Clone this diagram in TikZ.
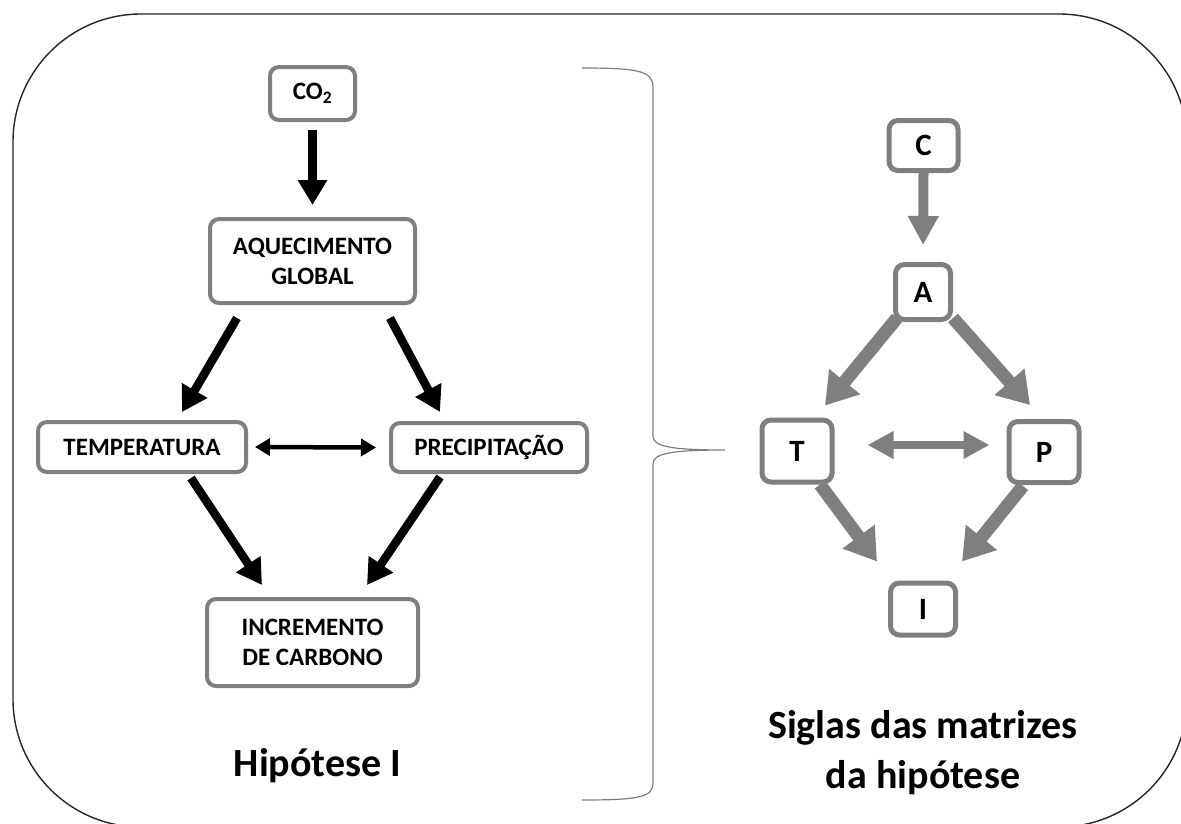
\documentclass[tikz,border=0pt]{standalone}
\usepackage{fontspec}
\setmainfont{Carlito}
\usetikzlibrary{arrows.meta}
\definecolor{boxgray}{HTML}{7F7F7F}
\definecolor{framecol}{HTML}{262626}
\begin{document}
\begin{tikzpicture}[x=1pt,y=-1pt,
  lbox/.style={draw=boxgray, line width=4pt, rounded corners=9pt, fill=white, inner sep=0pt, align=center, font=\bfseries\fontsize{25}{30}\selectfont},
  rbox/.style={draw=boxgray, line width=5pt, rounded corners=9pt, fill=white, inner sep=0pt, font=\bfseries\fontsize{31}{34}\selectfont},
  blkarrow/.style={black, line width=8.5pt, -{Triangle[width=28pt,length=25pt]}},
  blkdouble/.style={black, line width=4.5pt, {Triangle[width=17pt,length=15pt]}-{Triangle[width=17pt,length=15pt]}},
  grayarrow/.style={boxgray, line width=13pt, -{Triangle[width=38pt,length=31pt]}},
  graystraight/.style={boxgray, line width=10pt, -{Triangle[width=29pt,length=29pt]}},
  graydouble/.style={boxgray, line width=8pt, {Triangle[width=26pt,length=26pt]}-{Triangle[width=26pt,length=26pt]}},
  title/.style={font=\bfseries\fontsize{40}{50}\selectfont, align=center, anchor=base, inner sep=0pt}
]
\useasboundingbox (0,0) rectangle (1181,823);
\fill[white] (0,0) rectangle (1181,823);

% outer frame
\draw[framecol, line width=1.4pt, rounded corners=128pt] (13,14) rectangle (1187,827);

% brace
\draw[boxgray, line width=1.2pt] (582,68) .. controls (640,68) and (653,71) .. (653,88)
  -- (653,436) .. controls (653,446) and (668,450) .. (725,450)
  .. controls (668,450) and (653,454) .. (653,464)
  -- (653,783) .. controls (653,797) and (640,800) .. (582,800);

% left diagram
\node[lbox, minimum width=85pt, minimum height=53pt] (co2) at (312.5,93.5) {CO\textsubscript{2}};
\node[lbox, minimum width=205pt, minimum height=84pt] (ag) at (312.5,261) {AQUECIMENTO\\GLOBAL};
\node[lbox, minimum width=208pt, minimum height=50pt] (temp) at (142,447) {TEMPERATURA};
\node[lbox, minimum width=196pt, minimum height=49pt] (prec) at (489,447.5) {PRECIPITAÇÃO};
\node[lbox, minimum width=211pt, minimum height=87pt] (inc) at (312.5,642.5) {INCREMENTO\\DE CARBONO};

\draw[blkarrow, shorten <=8pt, shorten >=12pt] (co2.south) -- (ag.north);
\draw[blkarrow] ([shift={(-75.5,13)}]ag.south) -- ([shift={(40,-8)}]temp.north);
\draw[blkarrow] ([shift={(77.5,13)}]ag.south) -- ([shift={(-49,-9)}]prec.north);
\draw[blkdouble] ([shift={(7,0)}]temp.east) -- ([shift={(-13,0)}]prec.west);
\draw[blkarrow] ([shift={(49,4)}]temp.south) -- ([shift={(-50.5,-12)}]inc.north);
\draw[blkarrow] ([shift={(-49,3)}]prec.south) -- ([shift={(54.5,-12)}]inc.north);

\node[title] (hip) at (317.5,776) {Hipótese I};

% right diagram
\node[rbox, minimum width=69pt, minimum height=50pt] (C) at (923.5,145.5) {C};
\node[rbox, minimum width=55pt, minimum height=55pt] (A) at (923,292) {A};
\node[rbox, minimum width=70pt, minimum height=62pt] (T) at (797,451) {T};
\node[rbox, minimum width=70pt, minimum height=61pt] (P) at (1044,452) {P};
\node[rbox, minimum width=65pt, minimum height=52pt] (I) at (923,609) {I};

\draw[graystraight, shorten >=17pt] (C.south) -- (A.north);
\draw[grayarrow] ([shift={(-26,-4)}]A.south) -- ([shift={(28,-12)}]T.north);
\draw[grayarrow] ([shift={(30,-4)}]A.south) -- ([shift={(-14,-14)}]P.north);
\draw[graydouble] ([shift={(33,-6)}]T.east) -- ([shift={(-17,-7)}]P.west);
\draw[grayarrow] ([shift={(23,0)}]T.south) -- ([shift={(-46,-19)}]I.north);
\draw[grayarrow] ([shift={(-21,1)}]P.south) -- ([shift={(39,-19)}]I.north);

\node[title] (sig) at (923,788) {Siglas das matrizes\\da hipótese};
\end{tikzpicture}
\end{document}
